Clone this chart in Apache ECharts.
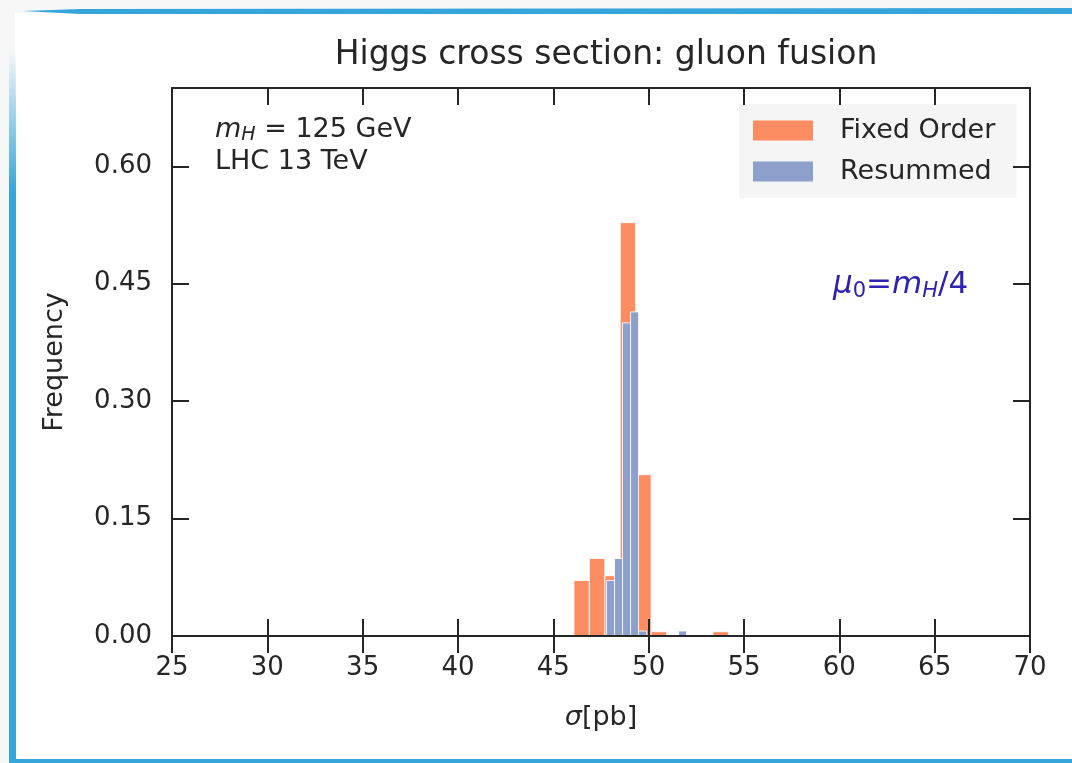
<!DOCTYPE html>
<html>
<head>
<meta charset="utf-8">
<script src="https://cdn.jsdelivr.net/npm/echarts@6/dist/echarts.min.js"></script>
<style>
html,body{margin:0;padding:0;background:#f7f7f7;}
#chart{width:1072px;height:763px;}
</style>
</head>
<body>
<div id="chart"></div>
<script>
// ---- data ----
const seriesNames = ['Fixed Order', 'Resummed'];
// histogram bin edges (sigma in pb)
const fixedOrderEdges = [46.08, 46.89, 47.70, 48.51, 49.32, 50.13, 50.94, 51.75, 52.56, 53.37, 54.18];
const fixedOrderFreq  = [0.071, 0.099, 0.077, 0.528, 0.206, 0.0055, 0, 0, 0, 0.0055];
const resummedEdges   = [47.79, 48.21, 48.63, 49.05, 49.47, 49.89, 50.31, 50.73, 51.15, 51.57, 51.99];
const resummedFreq    = [0.071, 0.099, 0.400, 0.414, 0.0064, 0, 0, 0, 0, 0.0064];
const xTicks = [25, 30, 35, 40, 45, 50, 55, 60, 65, 70];
const yTicks = [0.00, 0.15, 0.30, 0.45, 0.60];

const FONT = 'DejaVu Sans';
const TXT = '#262626';
const ANN = '#2f22b0';
const colors = ['#fc8d62', '#8da0cb'];

function toBins(edges, vals) {
  const out = [];
  for (let i = 0; i < vals.length; i++) {
    if (vals[i] > 0) out.push([edges[i], edges[i + 1], vals[i]]);
  }
  return out;
}
function renderBar(color) {
  return function (params, api) {
    const p0 = api.coord([api.value(0), api.value(2)]);
    const p1 = api.coord([api.value(1), 0]);
    return {
      type: 'rect',
      shape: { x: p0[0], y: p0[1], width: p1[0] - p0[0], height: p1[1] - p0[1] },
      style: { fill: color, stroke: 'rgba(255,255,255,0.85)', lineWidth: 1 }
    };
  };
}

const axisLineStyle = { color: TXT, width: 2 };
function xTick() { return { show: true, inside: true, length: 17, lineStyle: { color: TXT, width: 2 } }; }
function yTick() { return { show: true, inside: true, length: 17, lineStyle: { color: TXT, width: 2 }, customValues: yTicks.slice() }; }
const gridRect = { left: 172, top: 88, width: 858, height: 548, containLabel: false };

const chart = echarts.init(document.getElementById('chart'), null, { renderer: 'canvas' });
chart.setOption({
  animation: false,
  backgroundColor: '#f7f7f7',
  title: {
    text: 'Higgs cross section: gluon fusion',
    left: 601, top: 34, textAlign: 'center',
    textStyle: { fontFamily: FONT, fontSize: 33, fontWeight: 'normal', color: TXT }
  },
  legend: {
    orient: 'vertical',
    left: 739, top: 104,
    padding: [13, 21, 13, 14],
    itemGap: 14,
    itemWidth: 60, itemHeight: 20,
    icon: 'rect',
    backgroundColor: '#f5f5f5',
    data: seriesNames,
    itemStyle: { borderWidth: 0 },
    textStyle: { fontFamily: FONT, fontSize: 27, color: TXT, lineHeight: 20, padding: [0, 0, 0, 22] }
  },
  grid: [Object.assign({}, gridRect), Object.assign({}, gridRect)],
  xAxis: [{
    gridIndex: 0, type: 'value', position: 'bottom', min: 25, max: 70, interval: 5, z: 5,
    name: '{i|σ}[pb]', nameLocation: 'middle', nameGap: 68,
    nameTextStyle: { fontFamily: FONT, fontSize: 27, color: TXT,
      rich: { i: { fontFamily: FONT, fontSize: 27, fontStyle: 'italic', color: TXT } } },
    axisLine: { show: true, lineStyle: axisLineStyle },
    axisTick: xTick(),
    axisLabel: { show: true, margin: 19, fontFamily: FONT, fontSize: 26, color: TXT },
    splitLine: { show: false }
  }, {
    gridIndex: 0, type: 'value', position: 'top', min: 25, max: 70, interval: 5, z: 5,
    axisLine: { show: true, onZero: false, lineStyle: axisLineStyle },
    axisTick: xTick(),
    axisLabel: { show: false },
    splitLine: { show: false }
  }, {
    // tick marks along the bottom edge: a top axis of an overlay grid, moved onto y = 0
    gridIndex: 1, type: 'value', position: 'top', min: 25, max: 70, interval: 5, z: 5,
    axisLine: { show: true, onZero: true, lineStyle: axisLineStyle },
    axisTick: xTick(),
    axisLabel: { show: false },
    splitLine: { show: false }
  }],
  yAxis: [{
    gridIndex: 0, type: 'value', position: 'left', min: 0, max: 0.70, z: 5,
    name: 'Frequency', nameLocation: 'middle', nameGap: 104, nameRotate: 90,
    nameTextStyle: { fontFamily: FONT, fontSize: 27, color: TXT },
    axisLine: { show: true, onZero: false, lineStyle: axisLineStyle },
    axisTick: yTick(),
    axisLabel: { show: true, margin: 20, fontFamily: FONT, fontSize: 26, color: TXT,
      customValues: yTicks, formatter: v => v.toFixed(2) },
    splitLine: { show: false }
  }, {
    gridIndex: 0, type: 'value', position: 'right', min: 0, max: 0.70, z: 5,
    axisLine: { show: true, onZero: false, lineStyle: axisLineStyle },
    axisTick: yTick(),
    axisLabel: { show: false, customValues: yTicks },
    splitLine: { show: false }
  }, {
    gridIndex: 1, type: 'value', position: 'left', min: 0, max: 0.70,
    axisLine: { show: false }, axisTick: { show: false }, axisLabel: { show: false }, splitLine: { show: false }
  }],
  graphic: [
    { type: 'rect', z: -10, silent: true, shape: { x: 15, y: 13, width: 1072, height: 746 }, style: { fill: '#ffffff' } },
    { type: 'polygon', z: 10, silent: true, shape: { points: [[23, 11], [80, 9], [1072, 8], [1072, 14], [80, 14]] }, style: { fill: '#36a5da' } },
    { type: 'rect', z: 10, silent: true, shape: { x: 9, y: 50, width: 7, height: 713 },
      style: { fill: new echarts.graphic.LinearGradient(0, 0, 0, 1, [
        { offset: 0, color: 'rgba(54,165,218,0)' }, { offset: 0.2, color: 'rgba(54,165,218,1)' }, { offset: 1, color: 'rgba(54,165,218,1)' }]) } },
    { type: 'rect', z: 10, silent: true, shape: { x: 9, y: 759, width: 1063, height: 4 }, style: { fill: '#36a5da' } },
    { type: 'text', z: 10, left: 215, top: 116,
      style: { text: '{i|m}{s|H} = 125 GeV', fontFamily: FONT, fontSize: 27, fill: TXT,
        rich: { i: { fontFamily: FONT, fontSize: 27, fontStyle: 'italic', fill: TXT },
                s: { fontFamily: FONT, fontSize: 19, fontStyle: 'italic', fill: TXT, padding: [12, 0, 0, 0] } } } },
    { type: 'text', z: 10, left: 215, top: 148,
      style: { text: 'LHC 13 TeV', fontFamily: FONT, fontSize: 27, fill: TXT } },
    { type: 'text', z: 10, left: 833, top: 269,
      style: { text: '{i|μ}{s|0}={i|m}{si|H}/4', fontFamily: FONT, fontSize: 31, fill: ANN,
        rich: { i: { fontFamily: FONT, fontSize: 31, fontStyle: 'italic', fill: ANN },
                s: { fontFamily: FONT, fontSize: 21, fill: ANN, padding: [14, 0, 0, 0] },
                si: { fontFamily: FONT, fontSize: 21, fontStyle: 'italic', fill: ANN, padding: [14, 0, 0, 0] } } } }
  ],
  series: [{
    name: seriesNames[0], type: 'custom', renderItem: renderBar(colors[0]),
    xAxisIndex: 0, yAxisIndex: 0,
    itemStyle: { color: colors[0] },
    encode: { x: [0, 1], y: 2 },
    data: toBins(fixedOrderEdges, fixedOrderFreq), z: 2
  }, {
    name: seriesNames[1], type: 'custom', renderItem: renderBar(colors[1]),
    xAxisIndex: 0, yAxisIndex: 0,
    itemStyle: { color: colors[1] },
    encode: { x: [0, 1], y: 2 },
    data: toBins(resummedEdges, resummedFreq), z: 3
  }]
});
</script>
</body>
</html>
